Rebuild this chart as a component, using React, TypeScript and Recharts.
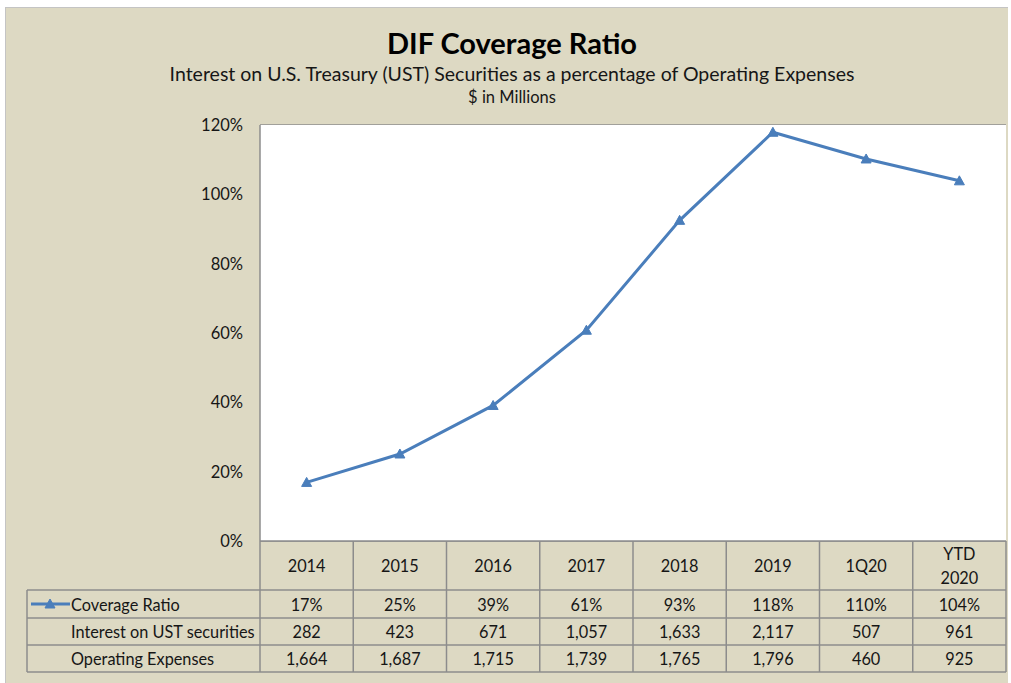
import React from 'react';
import { LineChart, Line, XAxis, YAxis, CartesianGrid } from 'recharts';

const categories = ['2014', '2015', '2016', '2017', '2018', '2019', '1Q20', 'YTD 2020'];
const coverageRatio = [16.9, 25.1, 39.1, 60.8, 92.5, 117.9, 110.2, 103.9];
const coverageLabels = ['17%', '25%', '39%', '61%', '93%', '118%', '110%', '104%'];
const interestUST = [282, 423, 671, 1057, 1633, 2117, 507, 961];
const operatingExpenses = [1664, 1687, 1715, 1739, 1765, 1796, 460, 925];
const yTicks = [0, 20, 40, 60, 80, 100, 120];

const data = categories.map((c, i) => ({ cat: c, ratio: coverageRatio[i] }));

const W = 1011;
const H = 683;
const PLOT_L = 260;
const PLOT_R = 1006;
const PLOT_T = 125;
const PLOT_B = 541;
const COL_W = (PLOT_R - PLOT_L) / categories.length;
const ROW_Y = [PLOT_B, 590, 618, 645, 672];
const TABLE_L = 27;
const FONT = 'Lato, "Open Sans", sans-serif';
const GRID = '#8c8c8c';
const BLUE = '#4A7EBB';
const TXT = '#161616';

const fmt = (n: number) => n.toLocaleString('en-US');

const Triangle = (props: any) => {
  const { cx, cy } = props;
  if (cx == null || cy == null) return null;
  return <polygon points={`${cx},${cy - 5} ${cx - 5},${cy + 4} ${cx + 5},${cy + 4}`} fill={BLUE} stroke={BLUE} strokeWidth={1} />;
};

const TableTick = (props: any) => {
  const { x, index } = props;
  const i = index as number;
  const label = categories[i];
  const mid = (a: number, b: number) => (a + b) / 2;
  const textProps = { fontFamily: FONT, fontSize: 16.3, fill: TXT, textAnchor: 'middle' as const, dominantBaseline: 'central' as const };
  return (
    <g>
      {i === 0 && (
        <g>
          <line x1={PLOT_L} x2={PLOT_L} y1={ROW_Y[0]} y2={ROW_Y[4]} stroke={GRID} strokeWidth={1.5} />
          <line x1={TABLE_L} x2={TABLE_L} y1={ROW_Y[1]} y2={ROW_Y[4]} stroke={GRID} strokeWidth={1.5} />
          {[1, 2, 3, 4].map((r) => (
            <line key={r} x1={TABLE_L} x2={PLOT_R} y1={ROW_Y[r]} y2={ROW_Y[r]} stroke={GRID} strokeWidth={1.5} />
          ))}
          <line x1={31} x2={70} y1={mid(ROW_Y[1], ROW_Y[2])} y2={mid(ROW_Y[1], ROW_Y[2])} stroke={BLUE} strokeWidth={3} />
          <Triangle cx={50} cy={mid(ROW_Y[1], ROW_Y[2])} />
          <text x={71} y={mid(ROW_Y[1], ROW_Y[2])} {...textProps} textAnchor="start">Coverage Ratio</text>
          <text x={71} y={mid(ROW_Y[2], ROW_Y[3])} {...textProps} textAnchor="start">Interest on UST securities</text>
          <text x={71} y={mid(ROW_Y[3], ROW_Y[4])} {...textProps} textAnchor="start">Operating Expenses</text>
        </g>
      )}
      <line x1={x + COL_W / 2} x2={x + COL_W / 2} y1={ROW_Y[0]} y2={ROW_Y[4]} stroke={GRID} strokeWidth={1.5} />
      {label.includes(' ') ? (
        <g>
          <text x={x} y={mid(ROW_Y[0], ROW_Y[1]) - 12} {...textProps}>{label.split(' ')[0]}</text>
          <text x={x} y={mid(ROW_Y[0], ROW_Y[1]) + 12} {...textProps}>{label.split(' ')[1]}</text>
        </g>
      ) : (
        <text x={x} y={mid(ROW_Y[0], ROW_Y[1])} {...textProps}>{label}</text>
      )}
      <text x={x} y={mid(ROW_Y[1], ROW_Y[2])} {...textProps}>{coverageLabels[i]}</text>
      <text x={x} y={mid(ROW_Y[2], ROW_Y[3])} {...textProps}>{fmt(interestUST[i])}</text>
      <text x={x} y={mid(ROW_Y[3], ROW_Y[4])} {...textProps}>{fmt(operatingExpenses[i])}</text>
    </g>
  );
};

export default function App() {
  return (
    <div style={{ position: 'absolute', left: 0, top: 0, width: W, height: H, background: '#fff', overflow: 'hidden' }}>
      <div style={{ position: 'absolute', left: 5, top: 7, width: 1002, height: 676, background: '#DDD9C3', borderTop: '1px solid #c4c4c4', borderLeft: '1px solid #c4c4c4' }} />
      <div style={{ position: 'absolute', left: 0, top: 0 }}>
        <LineChart
          width={W}
          height={H}
          data={data}
          margin={{ top: PLOT_T, right: W - PLOT_R, bottom: H - 672, left: PLOT_L - 60 }}
        >
          <rect x={PLOT_L} y={PLOT_T} width={PLOT_R - PLOT_L} height={PLOT_B - PLOT_T} fill="#fff" />
          <text x={512} y={42} textAnchor="middle" dominantBaseline="central" fontFamily={FONT} fontWeight={700} fontSize={29} fill="#000">DIF Coverage Ratio</text>
          <text x={512} y={73} textAnchor="middle" dominantBaseline="central" fontFamily={FONT} fontSize={19.5} fill={TXT}>Interest on U.S. Treasury (UST) Securities as a percentage of Operating Expenses</text>
          <text x={512} y={97} textAnchor="middle" dominantBaseline="central" fontFamily={FONT} fontSize={16.5} fill={TXT}>$ in Millions</text>
          <CartesianGrid vertical={false} stroke={GRID} strokeWidth={1.5} fill="#fff" />
          <XAxis
            dataKey="cat"
            height={131}
            interval={0}
            tickLine={false}
            tickSize={0}
            tickMargin={0}
            axisLine={{ stroke: GRID, strokeWidth: 1.5 }}
            padding={{ left: COL_W / 2, right: COL_W / 2 }}
            tick={<TableTick />}
          />
          <YAxis
            width={60}
            domain={[0, 120]}
            ticks={yTicks}
            interval={0}
            tickLine={false}
            tickMargin={11}
            axisLine={{ stroke: GRID, strokeWidth: 1.5 }}
            tickFormatter={(v: number) => `${v}%`}
            tick={{ fontFamily: FONT, fontSize: 16.5, fill: TXT }}
          />
          <YAxis yAxisId="right" orientation="right" width={0} domain={[0, 120]} tick={false} tickLine={false} axisLine={{ stroke: GRID, strokeWidth: 1.5 }} />
          <Line
            type="linear"
            dataKey="ratio"
            stroke={BLUE}
            strokeWidth={3}
            dot={<Triangle />}
            activeDot={false}
            isAnimationActive={false}
          />
        </LineChart>
      </div>
    </div>
  );
}
